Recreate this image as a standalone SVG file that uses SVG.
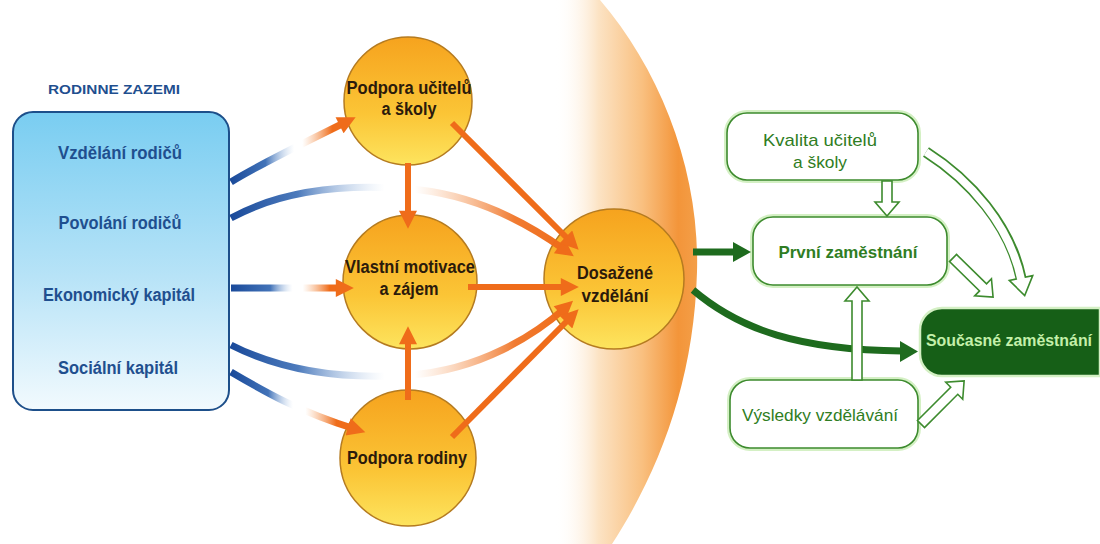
<svg xmlns="http://www.w3.org/2000/svg" width="1100" height="544" viewBox="0 0 1100 544">
<defs>
<style>
.lt{font-family:"Liberation Sans",Arial,sans-serif;font-weight:bold;font-size:17.5px;fill:#1f4f8f;text-anchor:middle}
.ct{font-family:"Liberation Sans",Arial,sans-serif;font-weight:bold;font-size:18px;fill:#2b1a0b;text-anchor:middle}
.gt{font-family:"Liberation Sans",Arial,sans-serif;font-size:17px;fill:#2f7d23;text-anchor:middle}
.circ{fill:url(#cg);stroke:#b57b20;stroke-width:1.5}
.gbox{fill:#fff;stroke:#3d8b2e;stroke-width:1.6}
.glow{fill:none;stroke:#d4f0c4;stroke-width:6}
.oa{stroke:#ef6c1a;stroke-width:6;fill:none;marker-end:url(#ah)}
.bc{stroke-width:7;fill:none;marker-end:url(#ah)}
.ha{fill:#fff;stroke:#3d8b2e;stroke-width:1.6;stroke-linejoin:miter}
</style>
<marker id="ah" viewBox="0 0 10 10" refX="4" refY="5" markerUnits="userSpaceOnUse" markerWidth="20" markerHeight="18" orient="auto">
<path d="M0,0 L10,5 L0,10 z" fill="#ef6c1a"/>
</marker>
<linearGradient id="boxg" x1="0" y1="0" x2="0" y2="1">
<stop offset="0" stop-color="#79cdf1"/>
<stop offset="0.55" stop-color="#b7e3f7"/>
<stop offset="1" stop-color="#f2fafe"/>
</linearGradient>
<linearGradient id="cg" x1="0" y1="0" x2="0" y2="1">
<stop offset="0" stop-color="#f6a31e"/>
<stop offset="0.6" stop-color="#fbc536"/>
<stop offset="1" stop-color="#fde45e"/>
</linearGradient>
<linearGradient id="bigg" gradientUnits="userSpaceOnUse" x1="555" y1="0" x2="700" y2="0">
<stop offset="0" stop-color="#ffffff" stop-opacity="0"/>
<stop offset="0.3" stop-color="#fce3c4"/>
<stop offset="0.6" stop-color="#f9c080"/>
<stop offset="0.85" stop-color="#f3953a"/>
<stop offset="1" stop-color="#f4a04a"/>
</linearGradient>
<linearGradient id="g1" gradientUnits="userSpaceOnUse" x1="231" y1="0" x2="346" y2="0">
<stop offset="0" stop-color="#1a4a9a"/>
<stop offset="0.3" stop-color="#2d63b0" stop-opacity="0.9"/>
<stop offset="0.55" stop-color="#a8c4e6" stop-opacity="0"/>
<stop offset="0.62" stop-color="#f5a060" stop-opacity="0"/>
<stop offset="0.88" stop-color="#ef6c1a"/>
</linearGradient>
<linearGradient id="g2" gradientUnits="userSpaceOnUse" x1="231" y1="0" x2="565" y2="0">
<stop offset="0" stop-color="#1a4a9a"/>
<stop offset="0.2" stop-color="#2d63b0" stop-opacity="0.85"/>
<stop offset="0.46" stop-color="#a8c4e6" stop-opacity="0"/>
<stop offset="0.55" stop-color="#f5a060" stop-opacity="0"/>
<stop offset="0.85" stop-color="#ef6c1a" stop-opacity="0.9"/>
<stop offset="1" stop-color="#ef6c1a"/>
</linearGradient>
<linearGradient id="g3" gradientUnits="userSpaceOnUse" x1="231" y1="0" x2="343" y2="0">
<stop offset="0" stop-color="#1a4a9a"/>
<stop offset="0.35" stop-color="#2d63b0" stop-opacity="0.9"/>
<stop offset="0.55" stop-color="#a8c4e6" stop-opacity="0"/>
<stop offset="0.64" stop-color="#f5a060" stop-opacity="0"/>
<stop offset="0.88" stop-color="#ef6c1a"/>
</linearGradient>
<linearGradient id="g5" gradientUnits="userSpaceOnUse" x1="231" y1="0" x2="355" y2="0">
<stop offset="0" stop-color="#1a4a9a"/>
<stop offset="0.3" stop-color="#2d63b0" stop-opacity="0.9"/>
<stop offset="0.5" stop-color="#a8c4e6" stop-opacity="0"/>
<stop offset="0.6" stop-color="#f5a060" stop-opacity="0"/>
<stop offset="0.85" stop-color="#ef6c1a"/>
</linearGradient>
</defs>
<rect width="1100" height="544" fill="#fff"/>

<g id="backdrop">
<path d="M600,0 C660,70 700,170 697,272 C694,380 660,470 612,544 L540,544 L540,0 Z" fill="url(#bigg)"/>
</g>

<g id="rodinne-zazemi">
<text x="114" y="94" class="lt" style="font-size:13px" textLength="132" lengthAdjust="spacingAndGlyphs">RODINNE ZAZEMI</text>
<rect x="13" y="112" width="216" height="298" rx="20" fill="url(#boxg)" stroke="#1d4f8a" stroke-width="2"/>
<text x="120" y="159" class="lt" textLength="124" lengthAdjust="spacingAndGlyphs">Vzdělání rodičů</text>
<text x="120" y="229" class="lt" textLength="123" lengthAdjust="spacingAndGlyphs">Povolání rodičů</text>
<text x="119" y="301" class="lt" textLength="152" lengthAdjust="spacingAndGlyphs">Ekonomický kapitál</text>
<text x="118" y="374" class="lt" textLength="120" lengthAdjust="spacingAndGlyphs">Sociální kapitál</text>
</g>

<g id="podpora-ucitelu">
<circle cx="408" cy="101" r="64" class="circ"/>
<text x="409" y="94" class="ct" textLength="125" lengthAdjust="spacingAndGlyphs">Podpora učitelů</text>
<text x="409" y="115" class="ct" textLength="55" lengthAdjust="spacingAndGlyphs">a školy</text>
</g>

<g id="vlastni-motivace">
<circle cx="410" cy="282" r="67" class="circ"/>
<text x="410" y="273" class="ct" textLength="130" lengthAdjust="spacingAndGlyphs">Vlastní motivace</text>
<text x="409" y="295" class="ct" textLength="59" lengthAdjust="spacingAndGlyphs">a zájem</text>
</g>

<g id="podpora-rodiny">
<circle cx="408" cy="458" r="68" class="circ"/>
<text x="407" y="464" class="ct" textLength="120" lengthAdjust="spacingAndGlyphs">Podpora rodiny</text>
</g>

<g id="dosazene-vzdelani">
<circle cx="614" cy="279" r="70" class="circ"/>
<text x="615" y="279" class="ct" textLength="76" lengthAdjust="spacingAndGlyphs">Dosažené</text>
<text x="615" y="302" class="ct" textLength="67" lengthAdjust="spacingAndGlyphs">vzdělání</text>
</g>

<g id="kvalita-ucitelu">
<rect x="727" y="113" width="191" height="67" rx="20" class="glow"/>
<rect x="727" y="113" width="191" height="67" rx="20" class="gbox"/>
<text x="820" y="146" class="gt" textLength="114" lengthAdjust="spacingAndGlyphs">Kvalita učitelů</text>
<text x="820" y="168" class="gt" textLength="54" lengthAdjust="spacingAndGlyphs">a školy</text>
</g>

<g id="prvni-zamestnani">
<rect x="753" y="217" width="194" height="68" rx="20" class="glow"/>
<rect x="753" y="217" width="194" height="68" rx="20" class="gbox"/>
<text x="848" y="258" class="gt" style="font-weight:bold" textLength="139" lengthAdjust="spacingAndGlyphs">První zaměstnání</text>
</g>

<g id="vysledky-vzdelavani">
<rect x="730" y="380" width="188" height="68" rx="20" class="glow"/>
<rect x="730" y="380" width="188" height="68" rx="20" class="gbox"/>
<text x="820" y="421" class="gt" textLength="156" lengthAdjust="spacingAndGlyphs">Výsledky vzdělávání</text>
</g>

<g id="soucasne-zamestnani">
<path d="M942,308 H1100 V376 H942 A22,22 0 0 1 920,354 V330 A22,22 0 0 1 942,308 Z" fill="#165f17" stroke="#d4f0c4" stroke-width="2.5"/>
<text x="1009" y="346" class="gt" style="fill:#c4f0aa;font-size:16px;font-weight:bold" textLength="166" lengthAdjust="spacingAndGlyphs">Současné zaměstnání</text>
</g>

<g id="connectors">
<path class="bc" stroke="url(#g1)" d="M231,182 C260,164 300,145 346,122"/>
<path class="bc" stroke="url(#g2)" d="M231,218 C290,186 360,184 420,190 C480,197 530,225 565,250"/>
<path class="bc" stroke="url(#g3)" d="M231,288 L343,288"/>
<path class="bc" stroke="url(#g2)" d="M231,345 C280,370 340,380 410,375 C480,370 535,335 565,308"/>
<path class="bc" stroke="url(#g5)" d="M231,372 C265,392 300,412 355,429"/>

<path class="oa" d="M452,123 L571,242"/>
<path class="oa" d="M408,163 L408,218"/>
<path class="oa" d="M468,287 L568,287"/>
<path class="oa" d="M408,400 L408,337"/>
<path class="oa" d="M452,437 L571,317"/>

<path d="M693,252 L736,252" stroke="#1e6b1e" stroke-width="7" fill="none"/>
<polygon points="733,242 751,252 733,262" fill="#1e6b1e"/>
<path d="M693,290 C740,330 800,350 902,351" stroke="#1e6b1e" stroke-width="7" fill="none"/>
<polygon points="900,341 918,351.5 900,362" fill="#1e6b1e"/>

<polygon class="ha" transform="translate(887,181) rotate(90)" points="0,-5 21,-5 21,-12 35,0 21,12 21,5 0,5"/>
<polygon class="ha" transform="translate(857,380) rotate(-90)" points="0,-5 79,-5 79,-12 93,0 79,12 79,5 0,5"/>
<polygon class="ha" transform="translate(953,258) rotate(44.3)" points="0,-5 42,-5 42,-12 56,0 42,12 42,5 0,5"/>
<polygon class="ha" transform="translate(921,424) rotate(-45)" points="0,-5 47,-5 47,-12 61,0 47,12 47,5 0,5"/>
<path d="M926,152 C970,180 1010,225 1021,278" stroke="#3d8b2e" stroke-width="11" fill="none"/>
<polygon class="ha" points="1032.7,275.6 1024.7,295.6 1009.3,280.4"/>
<path d="M926,152 C970,180 1010,225 1021.5,281" stroke="#fff" stroke-width="7.8" fill="none"/>
</g>
</svg>
